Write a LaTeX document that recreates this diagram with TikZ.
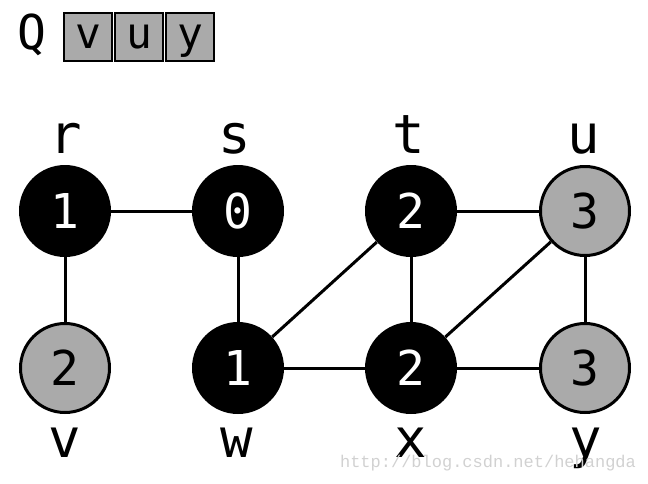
\documentclass[tikz,border=0pt]{standalone}
\usepackage{fontspec}
\setmonofont{DejaVu Sans Mono}
\newfontfamily\markfont{Liberation Mono}
\usepackage{tikz}
\usepackage{xcolor}
\definecolor{nodegray}{RGB}{170, 170, 170}

\begin{document}
\begin{tikzpicture}[x=1pt, y=-1pt,
    done/.style={circle, fill=black, text=white, minimum size=92pt, inner sep=0pt, font=\ttfamily\fontsize{48}{48}\selectfont},
    queued/.style={circle, fill=nodegray, draw=black, line width=3pt, minimum size=89pt, inner sep=0pt, font=\ttfamily\fontsize{48}{48}\selectfont},
    qbox/.style={draw=black, fill=nodegray, line width=2pt, minimum size=48pt, inner sep=0pt, text height=23pt, text depth=0pt, font=\ttfamily\fontsize{43}{43}\selectfont},
    lbl/.style={anchor=base, font=\ttfamily\fontsize{54}{54}\selectfont},
    edge/.style={line width=3pt}]
    \useasboundingbox (0,0) rectangle (648,483);
    % queue
    \node[anchor=base, font=\ttfamily\fontsize{48}{48}\selectfont] (q) at (32,49) {Q};
    \node[qbox] (q1) at (88,37) {v};
    \node[qbox] (q2) at (139,37) {u};
    \node[qbox] (q3) at (190,37) {y};
    % vertices
    \node[done] (r) at (65,211) {1};
    \node[done] (s) at (238,211) {0};
    \node[done] (t) at (411,211) {2};
    \node[queued] (u) at (585,211) {3};
    \node[queued] (v) at (65,368) {2};
    \node[done] (w) at (238,368) {1};
    \node[done] (x) at (411,368) {2};
    \node[queued] (y) at (585,368) {3};
    % names
    \node[lbl] at (66,153) {r};
    \node[lbl] at (235,153) {s};
    \node[lbl] at (409,153) {t};
    \node[lbl] at (584,153) {u};
    \node[lbl] at (65,457) {v};
    \node[lbl] at (237,457) {w};
    \node[lbl] at (411,457) {x};
    \node[lbl] at (586,457) {y};
    % edges
    \draw[edge] (r) -- (s);
    \draw[edge] (r) -- (v);
    \draw[edge] (s) -- (w);
    \draw[edge] (w) -- (t);
    \draw[edge] (w) -- (x);
    \draw[edge] (t) -- (x);
    \draw[edge] (t) -- (u);
    \draw[edge] (x) -- (u);
    \draw[edge] (x) -- (y);
    \draw[edge] (u) -- (y);
    \node[text=black!18, anchor=base, font=\markfont\fontsize{17}{17}\selectfont] (mark) at (488,467) {http://blog.csdn.net/hehangda};
\end{tikzpicture}
\end{document}
